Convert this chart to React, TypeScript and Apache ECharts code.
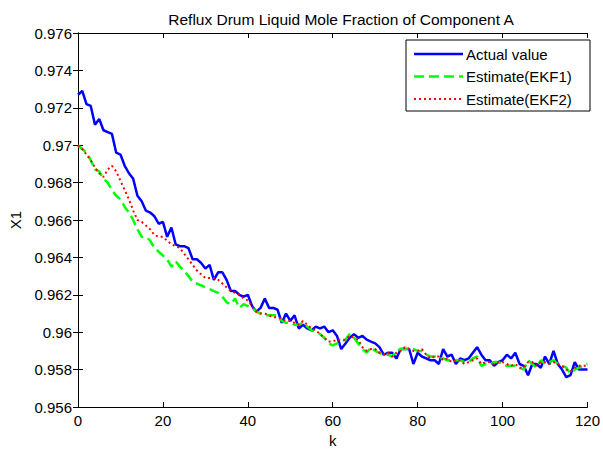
import React, { useEffect, useRef } from "react";
import * as echarts from "echarts";

const chartTitle = "Reflux Drum Liquid Mole Fraction of Component A";
const xName = "k";
const yName = "X1";
const seriesNames = ["Actual value", "Estimate(EKF1)", "Estimate(EKF2)"];
const seriesColors = ["#0000ff", "#00ff00", "#ff0000"];

const actualValue = [
  0.9727, 0.9729, 0.9722, 0.9721, 0.9711, 0.9714, 0.9708, 0.9707, 0.9706, 0.9696,
  0.9695, 0.9689, 0.9685, 0.9682, 0.9673, 0.967, 0.9665, 0.9664, 0.9662, 0.9658,
  0.9659, 0.9651, 0.9656, 0.9647, 0.9646, 0.9646, 0.9645, 0.9639, 0.9639, 0.9637,
  0.9634, 0.9636, 0.9628, 0.9632, 0.9632, 0.9628, 0.9622, 0.9622, 0.962, 0.9619,
  0.962, 0.9614, 0.9611, 0.9613, 0.9618, 0.9613, 0.9613, 0.9612, 0.9605, 0.961,
  0.9606, 0.9609, 0.9602, 0.9604, 0.9602, 0.9601, 0.9603, 0.9602, 0.9603, 0.96,
  0.9601, 0.9598, 0.9591, 0.9594, 0.9597, 0.9599, 0.9597, 0.9598, 0.9596, 0.9595,
  0.9594, 0.9592, 0.9588, 0.9589, 0.9589, 0.9586, 0.9591, 0.9591, 0.9591, 0.9583,
  0.9589, 0.9587, 0.9586, 0.9585, 0.9585, 0.9583, 0.9591, 0.9587, 0.9588, 0.9583,
  0.9586, 0.9585, 0.9586, 0.9589, 0.9592, 0.9588, 0.9585, 0.9585, 0.9582, 0.9584,
  0.9585, 0.9588, 0.9586, 0.9589, 0.9583, 0.9582, 0.9577, 0.9583, 0.9583, 0.9581,
  0.9587, 0.9583, 0.959, 0.9583, 0.958, 0.9576, 0.9577, 0.9584, 0.958, 0.958,
  0.958,
];

const estimateEKF1 = [
  0.97, 0.9698, 0.9696, 0.9692, 0.9687, 0.9686, 0.9682, 0.968, 0.9676, 0.9673,
  0.9671, 0.9667, 0.9664, 0.966, 0.9655, 0.9651, 0.9651, 0.9649, 0.9645, 0.9643,
  0.9641, 0.9639, 0.9635, 0.9638, 0.9635, 0.9633, 0.963, 0.9627, 0.9626, 0.9625,
  0.9624, 0.9623, 0.9622, 0.9621, 0.9619, 0.9616, 0.9615, 0.9618, 0.9613, 0.9615,
  0.9614, 0.9613, 0.9611, 0.961, 0.9609, 0.9609, 0.9609, 0.9609, 0.9606, 0.9605,
  0.9605, 0.9604, 0.9604, 0.9605, 0.9603, 0.9601, 0.96, 0.9599, 0.9597, 0.9594,
  0.9593, 0.9594, 0.9595, 0.9596, 0.9599, 0.9597, 0.9594, 0.9591, 0.9589, 0.9592,
  0.959, 0.9589, 0.9588, 0.9588, 0.9587, 0.959, 0.9591, 0.9591, 0.9591, 0.9591,
  0.959, 0.959, 0.9588, 0.9587, 0.9587, 0.9586, 0.9586, 0.9585, 0.9585, 0.9585,
  0.9585, 0.9584, 0.9584, 0.9586, 0.9587, 0.9582, 0.9583, 0.9583, 0.9584, 0.9584,
  0.9583, 0.9582, 0.9582, 0.9582, 0.9581, 0.958, 0.9585, 0.9583, 0.9581, 0.9585,
  0.9583, 0.9584, 0.9585, 0.9583, 0.9582, 0.9581, 0.9578, 0.958, 0.9581, 0.9582,
  0.9583,
];

const estimateEKF2 = [
  0.97, 0.9698, 0.9695, 0.9692, 0.9688, 0.9685, 0.9683, 0.9687, 0.9689, 0.9686,
  0.9681, 0.9676, 0.9671, 0.9665, 0.966, 0.9659, 0.9657, 0.9655, 0.9652, 0.9651,
  0.9651, 0.9649, 0.9647, 0.9646, 0.9645, 0.9642, 0.9639, 0.9636, 0.9633, 0.9631,
  0.9629, 0.9629, 0.9629, 0.9628, 0.9626, 0.9624, 0.9622, 0.9621, 0.962, 0.9618,
  0.9617, 0.9614, 0.9611, 0.961, 0.961, 0.9609, 0.9608, 0.9608, 0.9607, 0.9606,
  0.9606, 0.9605, 0.9604, 0.9606, 0.9604, 0.9602, 0.9601, 0.9599, 0.9597, 0.9595,
  0.9595, 0.9596, 0.9596, 0.9596, 0.9598, 0.9597, 0.9596, 0.9592, 0.959, 0.9591,
  0.9591, 0.9589, 0.9588, 0.9589, 0.9587, 0.9589, 0.959, 0.9592, 0.9591, 0.959,
  0.959, 0.9591, 0.9588, 0.9586, 0.9587, 0.9587, 0.9585, 0.9586, 0.9584, 0.9585,
  0.9585, 0.9583, 0.9584, 0.9585, 0.9586, 0.9583, 0.9584, 0.9584, 0.9583, 0.9584,
  0.9584, 0.9583, 0.9582, 0.9583, 0.9581, 0.9581, 0.9584, 0.9584, 0.9582, 0.9584,
  0.9584, 0.9583, 0.9584, 0.9583, 0.9582, 0.958, 0.9579, 0.9581, 0.9582, 0.9582,
  0.9582,
];

const xMin = 0;
const xMax = 120;
const xStep = 20;
const yMin = 0.956;
const yMax = 0.976;
const yStep = 0.002;

export default function App() {
  const ref = useRef<HTMLDivElement>(null);
  useEffect(() => {
    document.body.style.margin = "0";
    const chart = echarts.init(ref.current!, null, { renderer: "svg" });
    const font = "'Liberation Sans', Arial, sans-serif";
    const yFmt = (v: number) => String(parseFloat(v.toFixed(3)));
    const axisLine = { show: true, lineStyle: { color: "#000", width: 1 } };
    const axisTick = { show: true, inside: true, length: 5, lineStyle: { color: "#000" } };
    const label = { color: "#000", fontSize: 15, fontFamily: font };
    const toPairs = (arr: number[]) => arr.map((v, i) => [i, v]);
    const lineTypes: any[] = ["solid", [10, 5], [2, 3]];
    const lineWidths = [2.5, 2.5, 2];

    // legend drawn as graphic elements (line sample + text)
    const legendLeft = 406;
    const legendTop = 40;
    const legendW = 184;
    const legendH = 71;
    const rowY = [54, 76.5, 99];
    const legendChildren: any[] = [
      {
        type: "rect",
        shape: { x: legendLeft, y: legendTop, width: legendW, height: legendH },
        style: { fill: "#fff", stroke: "#000", lineWidth: 1 },
      },
    ];
    seriesNames.forEach((name, i) => {
      legendChildren.push({
        type: "line",
        shape: { x1: legendLeft + 8, y1: rowY[i], x2: legendLeft + 57, y2: rowY[i] },
        style: {
          stroke: seriesColors[i],
          lineWidth: lineWidths[i],
          lineDash: lineTypes[i] === "solid" ? null : lineTypes[i],
        },
      });
      legendChildren.push({
        type: "text",
        x: legendLeft + 60,
        y: rowY[i],
        style: {
          text: name,
          fill: "#000",
          fontSize: 15,
          fontFamily: font,
          verticalAlign: "middle",
          align: "left",
        },
      });
    });

    chart.setOption({
      animation: false,
      backgroundColor: "#fff",
      title: {
        text: chartTitle,
        left: 336,
        textAlign: "center",
        top: 6,
        textStyle: { fontSize: 15.5, fontWeight: "normal", color: "#000", fontFamily: font },
      },
      grid: { left: 77, right: 11, top: 33, bottom: 41, containLabel: false },
      graphic: [{ type: "group", z: 100, children: legendChildren }],
      xAxis: [
        {
          type: "value",
          min: xMin,
          max: xMax,
          interval: xStep,
          position: "bottom",
          axisLine,
          axisTick,
          splitLine: { show: false },
          axisLabel: { ...label, margin: 6 },
          name: xName,
          nameLocation: "middle",
          nameGap: 26,
          nameTextStyle: { ...label },
        },
        {
          type: "value",
          min: xMin,
          max: xMax,
          interval: xStep,
          position: "top",
          axisLine,
          axisTick,
          splitLine: { show: false },
          axisLabel: { show: false },
        },
      ],
      yAxis: [
        {
          type: "value",
          min: yMin,
          max: yMax,
          interval: yStep,
          position: "left",
          axisLine,
          axisTick,
          splitLine: { show: false },
          axisLabel: { ...label, margin: 6, formatter: yFmt },
          name: yName,
          nameLocation: "middle",
          nameGap: 55,
          nameTextStyle: { ...label },
        },
        {
          type: "value",
          min: yMin,
          max: yMax,
          interval: yStep,
          position: "right",
          axisLine,
          axisTick,
          splitLine: { show: false },
          axisLabel: { show: false },
        },
      ],
      series: [actualValue, estimateEKF1, estimateEKF2].map((arr, i) => ({
        name: seriesNames[i],
        type: "line",
        data: toPairs(arr),
        symbol: "none",
        lineStyle: { color: seriesColors[i], width: lineWidths[i], type: lineTypes[i] },
        itemStyle: { color: seriesColors[i] },
      })),
    });
    return () => chart.dispose();
  }, []);
  return <div ref={ref} style={{ width: 603, height: 453 }} />;
}
